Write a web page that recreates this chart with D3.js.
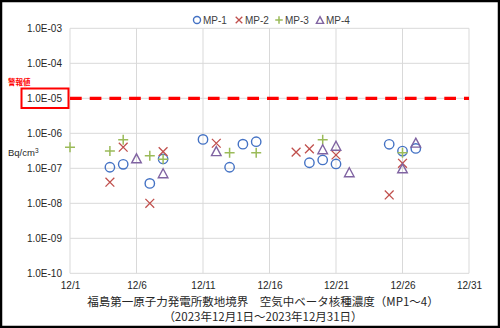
<!DOCTYPE html>
<html><head><meta charset="utf-8">
<script src="https://cdn.jsdelivr.net/npm/d3@7"></script>
<style>
html,body{margin:0;padding:0;background:#fff;}
svg{display:block;font-family:"Liberation Sans",Arial,sans-serif;}
</style></head>
<body><svg id="c" width="500" height="328"></svg>
<script>
// ---- data ----
const seriesNames = ["MP-1","MP-2","MP-3","MP-4"];
const mp1Days = [4,5,7,8,11,13,14,15,19,20,21,25,26,27];
const mp1Vals = [1.07e-7,1.3e-7,3.7e-8,1.85e-7,6.7e-7,1.07e-7,4.9e-7,5.75e-7,1.44e-7,1.73e-7,1.33e-7,4.85e-7,3.1e-7,3.7e-7];
const mp2Days = [4,5,7,8,12,18,19,21,25,26];
const mp2Vals = [4.0e-8,4.0e-7,1.0e-8,3.0e-7,5.2e-7,2.9e-7,3.6e-7,2.4e-7,1.73e-8,1.39e-7];
const mp3Days = [1,4,5,7,8,13,15,20,26];
const mp3Vals = [4.0e-7,3.1e-7,6.5e-7,2.3e-7,1.8e-7,2.8e-7,2.8e-7,6.5e-7,2.8e-7];
const mp4Days = [6,8,12,20,21,22,26,27];
const mp4Vals = [1.93e-7,7.2e-8,3.1e-7,3.5e-7,4.4e-7,7.7e-8,1.0e-7,5.4e-7];
const xTickDays = [1,6,11,16,21,26,31];
const xTickLabels = ["12/1","12/6","12/11","12/16","12/21","12/26","12/31"];
const yTickVals = [1e-10,1e-9,1e-8,1e-7,1e-6,1e-5,1e-4,1e-3];
const yTickLabels = ["1.0E-10","1.0E-09","1.0E-08","1.0E-07","1.0E-06","1.0E-05","1.0E-04","1.0E-03"];
const warningValue = 1e-5;
const warningLabel = "警報値";
const unitBase = "Bq/cm";
const unitSup = "3";
const titleLines = ["福島第一原子力発電所敷地境界　空気中ベータ核種濃度（MP1～4）","（2023年12月1日～2023年12月31日）"];

// ---- layout ----
const L = 70, R = 469, T = 28.3, B = 273.3;
const colors = ["#4472C4","#C0504D","#9BBB59","#8064A2"];
const shapes = ["circle","cross","plus","triangle"];
const svg = d3.select("#c");
const x = d3.scaleLinear().domain([1,31]).range([L,R]);
const y = d3.scaleLog().domain([1e-10,1e-3]).range([B,T]);

svg.append("rect").attr("x",1).attr("y",1).attr("width",498).attr("height",326)
  .attr("fill","#fff").attr("stroke","#000").attr("stroke-width",2.5);

// gridlines
const g = svg.append("g");
g.selectAll("line.h").data(yTickVals).join("line")
  .attr("x1",L).attr("x2",R).attr("y1",d=>y(d)).attr("y2",d=>y(d))
  .attr("stroke","#d9d9d9").attr("stroke-width",1);
g.selectAll("line.v").data(xTickDays).join("line")
  .attr("y1",T).attr("y2",B).attr("x1",d=>x(d)).attr("x2",d=>x(d))
  .attr("stroke","#d9d9d9").attr("stroke-width",1);

// axes labels
const yAxis = d3.axisLeft(y).tickValues(yTickVals).tickSize(0).tickPadding(8)
  .tickFormat((d,i)=>yTickLabels[i]);
const ya = svg.append("g").attr("transform",`translate(${L},0)`).call(yAxis);
ya.select(".domain").remove();
ya.selectAll("text").attr("font-size",10).attr("fill","#262626")
  .attr("font-family","'Liberation Sans',Arial,sans-serif");

const xAxis = d3.axisBottom(x).tickValues(xTickDays).tickSize(0).tickPadding(9)
  .tickFormat((d,i)=>xTickLabels[i]);
const xa = svg.append("g").attr("transform",`translate(0,${B})`).call(xAxis);
xa.select(".domain").remove();
xa.selectAll("text").attr("font-size",10).attr("fill","#262626")
  .attr("font-family","'Liberation Sans',Arial,sans-serif");

// warning line
svg.append("line").attr("x1",L).attr("x2",R).attr("y1",y(warningValue)).attr("y2",y(warningValue))
  .attr("stroke","#FF0000").attr("stroke-width",3.2).attr("stroke-dasharray","11.7,8");
svg.append("rect").attr("x",21.5).attr("y",88.5).attr("width",47).attr("height",19.5)
  .attr("fill","none").attr("stroke","#FF0000").attr("stroke-width",2);
svg.append("text").attr("x",8).attr("y",85).attr("font-size",7.5).attr("font-weight","bold")
  .attr("fill","#FF0000").attr("font-family","'Noto Sans CJK JP',sans-serif").text(warningLabel);

// unit
const ut = svg.append("text").attr("x",8).attr("y",156).attr("font-size",9.5).attr("fill","#262626");
ut.append("tspan").text(unitBase);
ut.append("tspan").attr("dy",-3.5).attr("font-size",6.5).text(unitSup);

// marker generator
function marker(sel, shape, color, s){
  sel.each(function(){
    const el = d3.select(this);
    if(shape==="circle"){
      el.append("circle").attr("r",4.7*s).attr("fill","none").attr("stroke",color).attr("stroke-width",1.4);
    } else if(shape==="cross"){
      const a=4.4*s;
      el.append("path").attr("d",`M${-a},${-a}L${a},${a}M${-a},${a}L${a},${-a}`)
        .attr("stroke",color).attr("stroke-width",1.3).attr("fill","none");
    } else if(shape==="plus"){
      const a=5*s;
      el.append("path").attr("d",`M${-a},0L${a},0M0,${-a}L0,${a}`)
        .attr("stroke",color).attr("stroke-width",1.5).attr("fill","none");
    } else {
      const w=4.8*s, h=4.5*s;
      el.append("path").attr("d",`M0,${-h}L${w},${h}L${-w},${h}Z`)
        .attr("stroke",color).attr("stroke-width",1.4).attr("fill","none");
    }
  });
}

const series = [
  {days:mp1Days, vals:mp1Vals},
  {days:mp2Days, vals:mp2Vals},
  {days:mp3Days, vals:mp3Vals},
  {days:mp4Days, vals:mp4Vals}
];
series.forEach((s,k)=>{
  const pts = s.days.map((d,i)=>({d, v:s.vals[i]}));
  const grp = svg.append("g");
  const m = grp.selectAll("g").data(pts).join("g")
    .attr("transform",p=>`translate(${x(p.d)},${y(p.v)})`);
  marker(m, shapes[k], colors[k], 1);
});

// legend
const legX = [197,239,279,320];
seriesNames.forEach((n,k)=>{
  const lg = svg.append("g").attr("transform",`translate(${legX[k]},20)`);
  marker(lg, shapes[k], colors[k], 0.75);
  lg.append("text").attr("x",6).attr("y",3.6).attr("font-size",10).attr("fill","#404040").text(n);
});

// title
titleLines.forEach((t,i)=>{
  svg.append("text").attr("x",263).attr("y",306+i*15).attr("text-anchor","middle")
    .attr("font-size",11.5).attr("fill","#262626")
    .attr("font-family","'Noto Sans CJK JP',sans-serif").text(t);
});
</script></body></html>
